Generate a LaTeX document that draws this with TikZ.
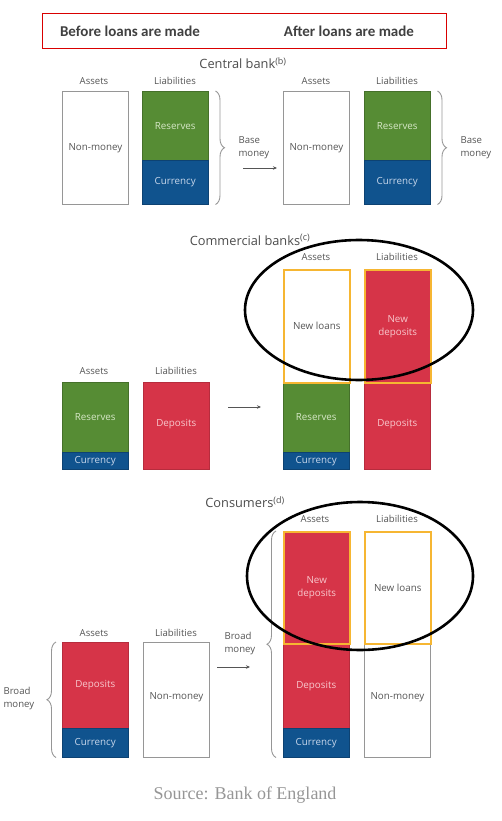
\documentclass[tikz,border=0pt]{standalone}
\usepackage{fontspec}
\setmainfont{Open Sans}
\newfontfamily\bannerfont{Carlito}
\newfontfamily\srcfont{Liberation Serif}
\usetikzlibrary{decorations.pathreplacing,arrows.meta}
\definecolor{boegreen}{RGB}{86,140,52}
\definecolor{boeblue}{RGB}{16,83,142}
\definecolor{boered}{RGB}{214,52,72}
\definecolor{boeorange}{RGB}{246,182,50}
\definecolor{boegray}{RGB}{150,150,150}
\definecolor{txtgray}{RGB}{85,85,85}
\definecolor{lighttxt}{RGB}{215,232,200}
\definecolor{pinktxt}{RGB}{248,200,205}
\definecolor{bluetxt}{RGB}{200,215,235}
\begin{document}
\begin{tikzpicture}[x=1pt,y=-1pt,
  box/.style={anchor=north west,inner sep=0pt,minimum width=66pt,font=\fontsize{9.8}{13}\selectfont,align=center},
  whitebox/.style={box,draw=boegray,line width=0.9pt,fill=white,text=txtgray},
  greenbox/.style={box,fill=boegreen,draw=boegreen!80!black,line width=0.5pt,text=lighttxt},
  bluebox/.style={box,fill=boeblue,draw=boeblue!80!black,line width=0.5pt,text=bluetxt},
  redbox/.style={box,fill=boered,draw=boered!85!black,line width=0.5pt,text=pinktxt},
  newbox/.style={draw=boeorange,line width=1.5pt},
  lbl/.style={font=\fontsize{9.6}{13}\selectfont,text=txtgray},
  heading/.style={font=\fontsize{12.8}{14}\selectfont,text=txtgray!90!black},
  brc/.style={draw=boegray,line width=0.9pt,decorate,decoration={brace,amplitude=9pt}},
  arr/.style={draw=txtgray,line width=0.8pt,-{Stealth[length=4pt,width=3.5pt]}},
  ring/.style={draw=black,line width=2.6pt}]
\useasboundingbox (0,0) rectangle (502,821);
% top banner
\node[draw=red!85!black,line width=1.3pt,minimum width=404pt,minimum height=35pt,inner sep=0pt,anchor=north west] (banner) at (42,13) {};
\node[font=\bannerfont\bfseries\fontsize{15}{16}\selectfont,text=txtgray!75!black] (before) at (130,31) {Before loans are made};
\node[font=\bannerfont\bfseries\fontsize{15}{16}\selectfont,text=txtgray!75!black] (after) at (349,31) {After loans are made};

% ---------------- Central bank
\node[heading] (cbh) at (243,63) {Central bank\textsuperscript{(b)}};
\node[lbl] (cbA1) at (94,81) {Assets};
\node[lbl] (cbL1) at (175,81) {Liabilities};
\node[lbl] (cbA2) at (316,81) {Assets};
\node[lbl] (cbL2) at (397,81) {Liabilities};
\node[whitebox,minimum height=113pt] (cbnm1) at (62,91) {Non-money};
\node[greenbox,minimum height=69pt] (cbres1) at (142,91) {Reserves};
\node[bluebox,minimum height=44pt] (cbcur1) at (142,160) {Currency};
\node[whitebox,minimum height=113pt] (cbnm2) at (283,91) {Non-money};
\node[greenbox,minimum height=69pt] (cbres2) at (364,91) {Reserves};
\node[bluebox,minimum height=44pt] (cbcur2) at (364,160) {Currency};
\draw[brc] (cbres1.north east) ++(7,0) coordinate (cbb1t) -- ([xshift=7pt]cbcur1.south east);
\draw[brc] (cbres2.north east) ++(7,0) coordinate (cbb2t) -- ([xshift=7pt]cbcur2.south east);
\node[lbl,align=left,anchor=west] (cbbase1) at (235,148) {Base\\money};
\node[lbl,align=left,anchor=west] (cbbase2) at (457,148) {Base\\money};
\coordinate (cbas) at (243,168);
\coordinate (cbae) at (277,168);
\draw[arr] (cbas) -- (cbae);

% ---------------- Commercial banks
\node[heading] (comh) at (250,240) {Commercial banks\textsuperscript{(c)}};
\node[lbl] (coA1) at (94,371) {Assets};
\node[lbl] (coL1) at (176,371) {Liabilities};
\node[lbl] (coA2) at (316,257) {Assets};
\node[lbl] (coL2) at (397,257) {Liabilities};
\node[greenbox,minimum height=70pt] (cores1) at (62,382) {Reserves};
\node[bluebox,minimum height=17pt] (cocur1) at (62,452) {Currency};
\node[redbox,minimum height=87pt] (codep1) at (143,382) {\raisebox{6pt}{Deposits}};
\node[greenbox,minimum height=70pt] (cores2) at (283,382) {Reserves};
\node[bluebox,minimum height=17pt] (cocur2) at (283,452) {Currency};
\node[redbox,minimum height=87pt] (codep2) at (364,382) {\raisebox{6pt}{Deposits}};
\node[whitebox,newbox,minimum height=113pt] (conl) at (283,269) {New loans};
\node[redbox,newbox,minimum height=113pt] (cond) at (364,269) {New\\deposits};
\coordinate (coas) at (228,407);
\coordinate (coae) at (261,407);
\draw[arr] (coas) -- (coae);
\draw[ring] (359,310) ellipse [x radius=114pt, y radius=70pt];

% ---------------- Consumers
\node[heading] (conh) at (245,502) {Consumers\textsuperscript{(d)}};
\node[lbl] (cnA1) at (94,633) {Assets};
\node[lbl] (cnL1) at (176,633) {Liabilities};
\node[lbl] (cnA2) at (315,519) {Assets};
\node[lbl] (cnL2) at (397,519) {Liabilities};
\node[redbox,minimum height=86pt] (cndep1) at (62,642) {\raisebox{-4pt}{Deposits}};
\node[bluebox,minimum height=29pt] (cncur1) at (62,728) {Currency};
\node[whitebox,minimum height=115pt] (cnnm1) at (143,642) {\raisebox{8pt}{Non-money}};
\node[redbox,minimum height=85pt] (cndep2) at (283,643) {\raisebox{-4pt}{Deposits}};
\node[bluebox,minimum height=29pt] (cncur2) at (283,728) {Currency};
\node[whitebox,minimum height=114pt] (cnnm2) at (364,643) {\raisebox{8pt}{Non-money}};
\node[redbox,newbox,minimum height=112pt] (cnnd) at (283,531) {New\\deposits};
\node[whitebox,newbox,minimum height=112pt] (cnnl) at (364,531) {New loans};
\draw[brc] ([xshift=-6pt]cncur1.south west) -- ([xshift=-6pt]cndep1.north west);
\draw[brc] ([xshift=-7pt]cncur2.south west) -- ([xshift=-7pt]cnnd.north west);
\node[lbl,align=left,anchor=west] (cnbroad1) at (0,698) {Broad\\money};
\node[lbl,align=left,anchor=west] (cnbroad2) at (221,643) {Broad\\money};
\coordinate (cnas) at (217,667);
\coordinate (cnae) at (250,667);
\draw[arr] (cnas) -- (cnae);
\draw[ring] (360,576) ellipse [x radius=113pt, y radius=74pt];

% source
\node[font=\srcfont\fontsize{18}{19}\selectfont,text=boegray] (src) at (245,795) {Source: Bank of England};
\end{tikzpicture}
\end{document}
